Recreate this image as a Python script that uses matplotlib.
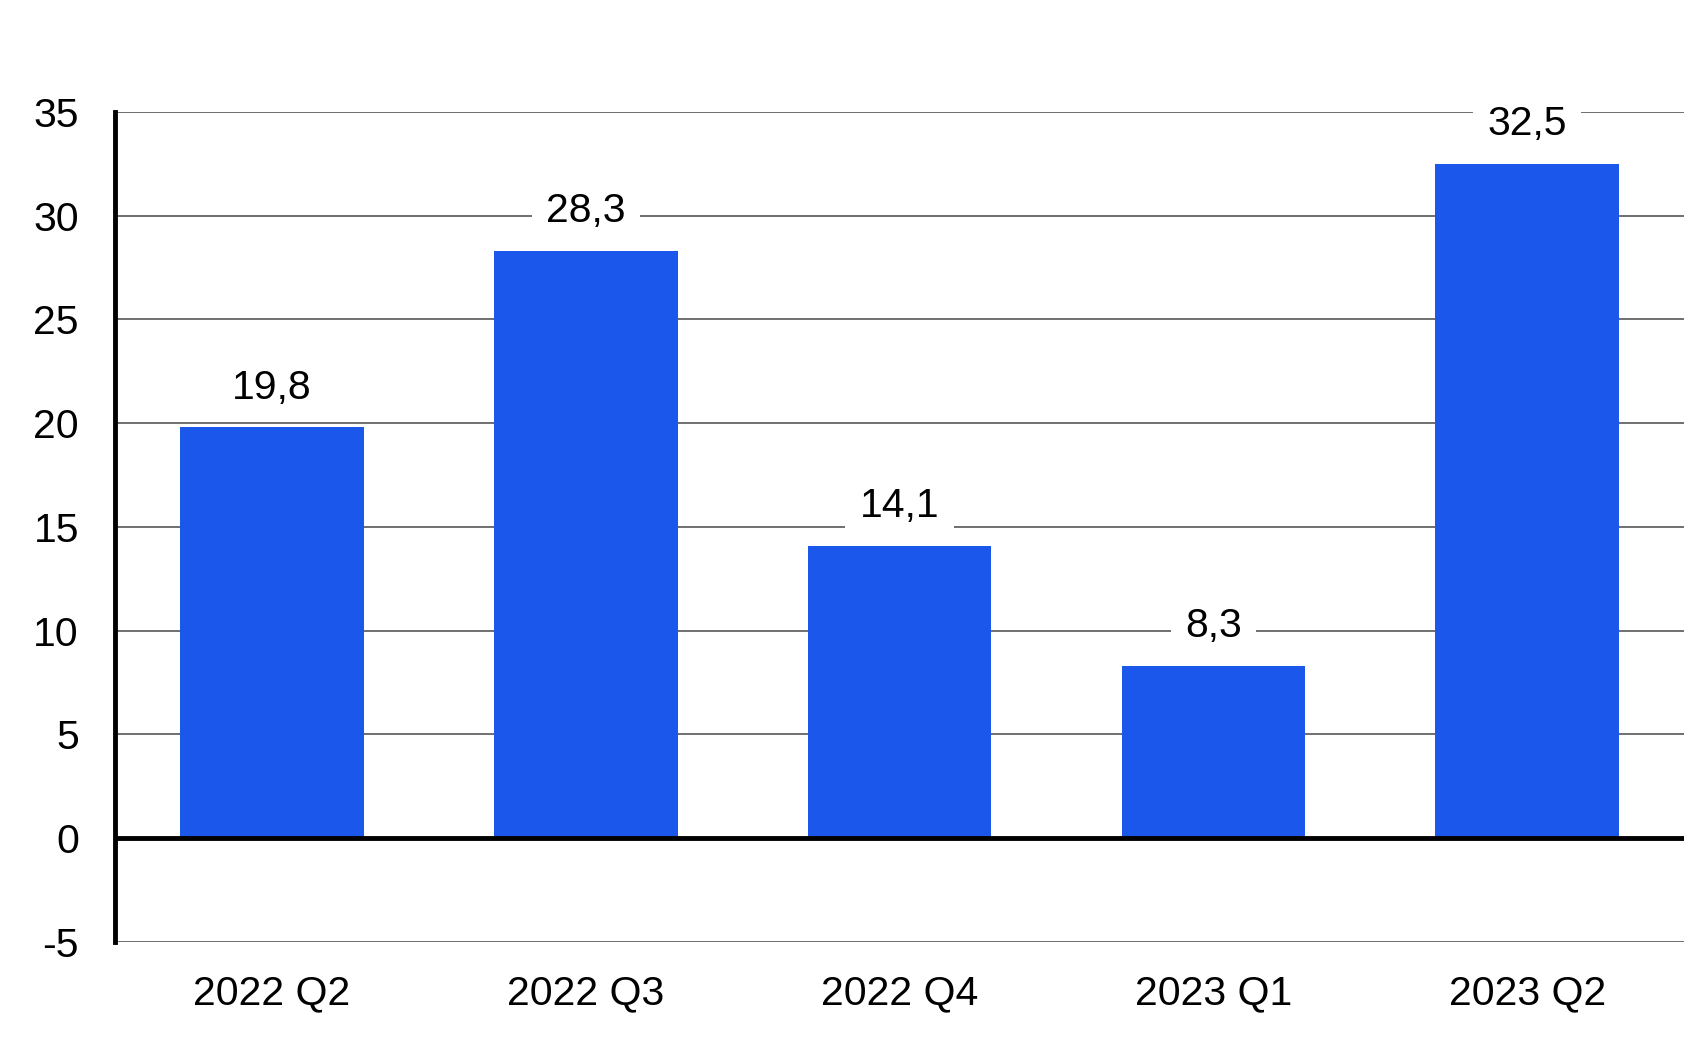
import matplotlib
matplotlib.use('Agg')
import matplotlib.pyplot as plt

plt.rcParams['font.family'] = ['Liberation Sans', 'DejaVu Sans']

# data
quarters = ['2022 Q2', '2022 Q3', '2022 Q4', '2023 Q1', '2023 Q2']
values = [19.8, 28.3, 14.1, 8.3, 32.5]
yticks = [-5, 0, 5, 10, 15, 20, 25, 30, 35]

fig = plt.figure(figsize=(16.92, 10.39), dpi=100)
ax = fig.add_axes([0.068, 0.0934, 0.9273, 0.7988])

x = range(len(quarters))
ax.bar(x, values, width=0.585, color='#1c57eb', zorder=2)

ax.set_xlim(-0.5, len(quarters) - 0.5)
ax.set_ylim(-5, 35)
ax.set_yticks(yticks)
ax.set_yticklabels([str(t) for t in yticks])
ax.set_xticks(list(x))
ax.set_xticklabels(quarters)

ax.yaxis.grid(True, color='#6f6f6f', linewidth=1.4, zorder=0)
ax.set_axisbelow(True)
ax.axhline(0, color='black', linewidth=3.5, zorder=3)

for s in ['top', 'right', 'bottom']:
    ax.spines[s].set_visible(False)
ax.spines['left'].set_linewidth(3.5)
ax.spines['left'].set_color('black')

ax.tick_params(axis='both', length=0, labelsize=29.5)
ax.tick_params(axis='y', pad=26)
ax.tick_params(axis='x', pad=23)
for lbl in ax.get_yticklabels():
    lbl.set_y(lbl.get_position()[1])

# value labels with white background over gridlines
for i, v in enumerate(values):
    ax.annotate(f'{v:.1f}'.replace('.', ','), (i, v), xytext=(0, 15),
                textcoords='offset points', ha='center', va='bottom',
                fontsize=29.5, zorder=4,
                bbox=dict(boxstyle='square,pad=0.35', fc='white', ec='none'))

fig.savefig('out.png', dpi=100)
